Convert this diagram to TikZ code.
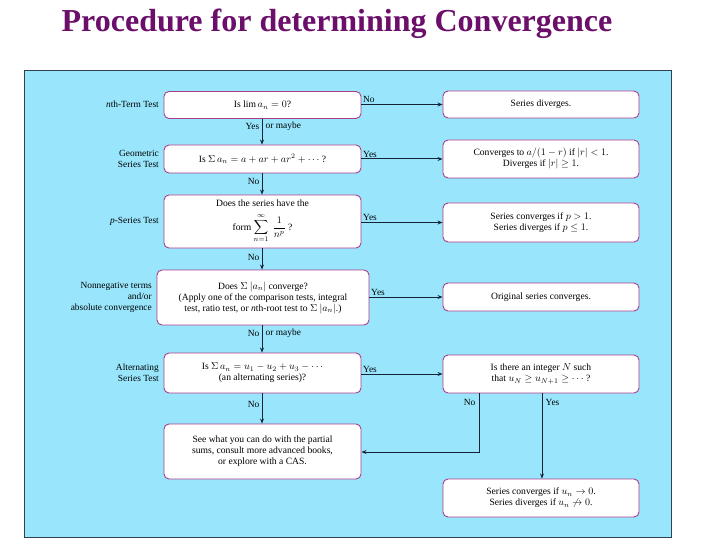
\documentclass[tikz,border=0pt]{standalone}
\usepackage{fontspec}
\setmainfont{Liberation Serif}
\usetikzlibrary{arrows.meta}
\definecolor{panel}{RGB}{153,230,252}
\definecolor{boxedge}{RGB}{170,60,140}
\definecolor{titlecol}{RGB}{107,15,107}
\definecolor{arrcol}{RGB}{20,35,55}
\definecolor{frame}{RGB}{50,65,80}
\tikzset{
  box/.style={draw=boxedge, line width=0.9pt, fill=white, rounded corners=5pt, align=center, font=\fontsize{9.6}{11}\selectfont, inner sep=2pt},
  side/.style={align=right, anchor=east, font=\fontsize{9.4}{11}\selectfont, inner sep=1pt},
  lbl/.style={font=\fontsize{9.4}{11}\selectfont, inner sep=1.5pt},
  flow/.style={draw=arrcol, line width=1pt, -{Stealth[length=5pt,width=4pt]}},
}
\begin{document}
\begin{tikzpicture}[x=1pt,y=-1pt]
\useasboundingbox (0,0) rectangle (720,540);
\fill[white] (0,0) rectangle (720,540);
\node[font=\bfseries\fontsize{32}{36}\selectfont, text=titlecol, inner sep=0pt] (title) at (337,24) {Procedure for determining Convergence};
\filldraw[fill=panel, draw=frame, line width=1pt] (24,71) rectangle (671,537);
% left column
\node[box, minimum width=197pt, minimum height=27pt] (b1) at (262.5,105) {Is $\lim a_n = 0$?};
\node[box, minimum width=197pt, minimum height=28pt] (b2) at (262.5,159) {Is $\Sigma\, a_n = a + ar + ar^2 + \cdots$ ?};
\node[box, minimum width=197pt, minimum height=53pt] (b3) at (262.5,221.5) {Does the series have the\\[6pt] form $\displaystyle\sum_{n=1}^{\infty}\ \frac{1}{n^p}$ ?};
\node[box, minimum width=212pt, minimum height=55pt] (b4) at (263,297.5) {Does $\Sigma\ |a_n|$ converge?\\(Apply one of the comparison tests, integral\\test, ratio test, or \emph{n}th-root test to $\Sigma\ |a_n|$.)};
\node[box, minimum width=197pt, minimum height=40pt] (b5) at (262.5,373) {Is $\Sigma\, a_n = u_1 - u_2 + u_3 - \cdots$\\(an alternating series)?};
\node[box, minimum width=197pt, minimum height=55pt] (b6) at (262.5,451.5) {See what you can do with the partial\\sums, consult more advanced books,\\or explore with a CAS.};
% right column
\node[box, minimum width=196pt, minimum height=27pt] (r1) at (541,104.5) {Series diverges.};
\node[box, minimum width=196pt, minimum height=38pt] (r2) at (541,159) {Converges to $a/(1-r)$ if $|r| < 1$.\\Diverges if $|r| \geq 1$.};
\node[box, minimum width=196pt, minimum height=39pt] (r3) at (541,222.5) {Series converges if $p > 1$.\\Series diverges if $p \leq 1$.};
\node[box, minimum width=196pt, minimum height=28pt] (r4) at (541,297) {Original series converges.};
\node[box, minimum width=196pt, minimum height=38pt] (r5) at (541,374) {Is there an integer $N$ such\\that $u_N \geq u_{N+1} \geq \cdots$ ?};
\node[box, minimum width=196pt, minimum height=38pt] (r6) at (541,498) {Series converges if $u_n \to 0$.\\Series diverges if $u_n \not\to 0$.};
% side labels
\node[side] (s1) at (160,104) {\emph{n}th-Term Test};
\node[side] (s2) at (160,159) {Geometric\\Series Test};
\node[side] (s3) at (160,221) {\emph{p}-Series Test};
\node[side] (s4) at (153,297) {Nonnegative terms\\and/or\\absolute convergence};
\node[side] (s5) at (160,373) {Alternating\\Series Test};
% vertical arrows
\draw[flow] (b1.south -| 262,0) -- (b2.north -| 262,0);
\draw[flow] (b2.south -| 262,0) -- (b3.north -| 262,0);
\draw[flow] (b3.south -| 262,0) -- (b4.north -| 262,0);
\draw[flow] (b4.south -| 262,0) -- (b5.north -| 262,0);
\draw[flow] (b5.south -| 262,0) -- (b6.north -| 262,0);
\node[lbl, anchor=east] (y1) at (261,126) {Yes};
\node[lbl, anchor=west] (m1) at (264,126) {or maybe};
\node[lbl, anchor=east] (n2) at (261,181) {No};
\node[lbl, anchor=east] (n3) at (261,257) {No};
\node[lbl, anchor=east] (n4) at (261,333) {No};
\node[lbl, anchor=west] (m4) at (264,333) {or maybe};
\node[lbl, anchor=east] (n5) at (261,404) {No};
% horizontal arrows
\draw[flow] (b1.east |- r1.west) -- (r1.west);
\draw[flow] (b2.east |- r2.west) -- (r2.west);
\draw[flow] (b3.east |- r3.west) -- (r3.west);
\draw[flow] (b4.east |- r4.west) -- (r4.west);
\draw[flow] (b5.east |- r5.west) -- (r5.west);
\node[lbl, anchor=south west] (h1) at (b1.east |- r1.west) {No};
\node[lbl, anchor=south west] (h2) at (b2.east |- r2.west) {Yes};
\node[lbl, anchor=south west] (h3) at (b3.east |- r3.west) {Yes};
\node[lbl, anchor=south west] (h4) at (b4.east |- r4.west) {Yes};
\node[lbl, anchor=south west] (h5) at (b5.east |- r5.west) {Yes};
% from r5
\coordinate (nb) at (479,452);
\draw[flow] (r5.south -| nb) -- (nb) -- (b6.east |- nb);
\draw[flow] (r5.south -| 542,0) -- (r6.north -| 542,0);
\node[lbl, anchor=east] (n6) at (477,402) {No};
\node[lbl, anchor=west] (y6) at (544,402) {Yes};
\end{tikzpicture}
\end{document}
